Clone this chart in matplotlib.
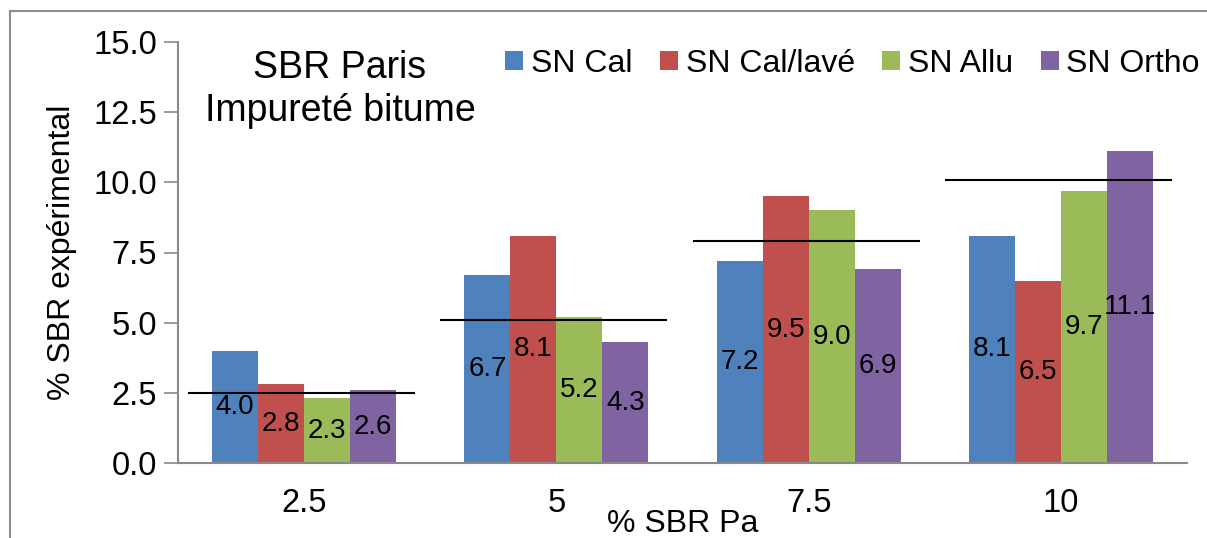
import matplotlib
matplotlib.use("Agg")
import matplotlib.pyplot as plt
from matplotlib.lines import Line2D
import numpy as np

plt.rcParams['font.family'] = ['Liberation Sans', 'DejaVu Sans']

categories = ["2.5", "5", "7.5", "10"]
series_names = ["SN Cal", "SN Cal/lavé", "SN Allu", "SN Ortho"]
sn_cal = [4.0, 6.7, 7.2, 8.1]
sn_cal_lave = [2.8, 8.1, 9.5, 6.5]
sn_allu = [2.3, 5.2, 9.0, 9.7]
sn_ortho = [2.6, 4.3, 6.9, 11.1]
theoretical = [2.5, 5.1, 7.9, 10.1]
yticks = [0.0, 2.5, 5.0, 7.5, 10.0, 12.5, 15.0]

colors = ["#4F81BD", "#C0504D", "#9BBB59", "#8064A2"]

W, H = 1207, 538
fig = plt.figure(figsize=(W / 100, H / 100), dpi=100)
ax = fig.add_axes([178 / W, 1 - 463 / H, (1187 - 178) / W, (463 - 42) / H])

x = np.arange(len(categories))
n = 4
bw = 0.73 / n
all_series = [sn_cal, sn_cal_lave, sn_allu, sn_ortho]
for i, (vals, name, c) in enumerate(zip(all_series, series_names, colors)):
    pos = x + (i - (n - 1) / 2) * bw
    ax.bar(pos, vals, width=bw, color=c, label=name, zorder=2)
    for p, v in zip(pos, vals):
        ax.text(p, v / 2, f"{v:.1f}", ha='center', va='center', fontsize=20, color='black', zorder=4)

ax.hlines(theoretical, x - 0.46, x + 0.44, color='black', lw=1.5, zorder=3)

ax.set_xlim(-0.5, len(categories) - 0.5)
ax.set_ylim(0, 15)
ax.set_yticks(yticks)
ax.set_yticklabels([f"{t:.1f}" for t in yticks], fontsize=23.5)
ax.set_xticks(x)
ax.set_xticklabels(categories, fontsize=23.5)
ax.tick_params(axis='x', length=0, pad=18)
ax.tick_params(axis='y', length=10, width=1.2, color='#898989', pad=5, direction='out')

for s in ['top', 'right']:
    ax.spines[s].set_visible(False)
for s in ['left', 'bottom']:
    ax.spines[s].set_color('#898989')
    ax.spines[s].set_linewidth(1.5)

ax.set_xlabel("% SBR Pa", fontsize=23)
ax.xaxis.set_label_coords(0.5, -46 / 421)
ax.set_ylabel("% SBR expérimental", fontsize=23, labelpad=12)

fig.legend(loc='center right', bbox_to_anchor=(1200 / W, 1 - 64 / H), ncol=4,
           frameon=False, fontsize=23, handlelength=0.55, handleheight=0.55,
           handletextpad=0.25, columnspacing=0.87, borderpad=0, borderaxespad=0)

fig.text(340 / W, 1 - 78 / H, "SBR Paris", ha='center', va='baseline', fontsize=27)
fig.text(340 / W, 1 - 121 / H, "Impureté bitume", ha='center', va='baseline', fontsize=27)

# outer chart border (partially cropped)
fig.add_artist(Line2D([10 / W, 10 / W], [0, 1 - 11 / H], color='#8c8c8c', lw=1.5, transform=fig.transFigure))
fig.add_artist(Line2D([10 / W, 1], [1 - 11 / H, 1 - 11 / H], color='#8c8c8c', lw=1.5, transform=fig.transFigure))

fig.savefig("out.png", dpi=100)
